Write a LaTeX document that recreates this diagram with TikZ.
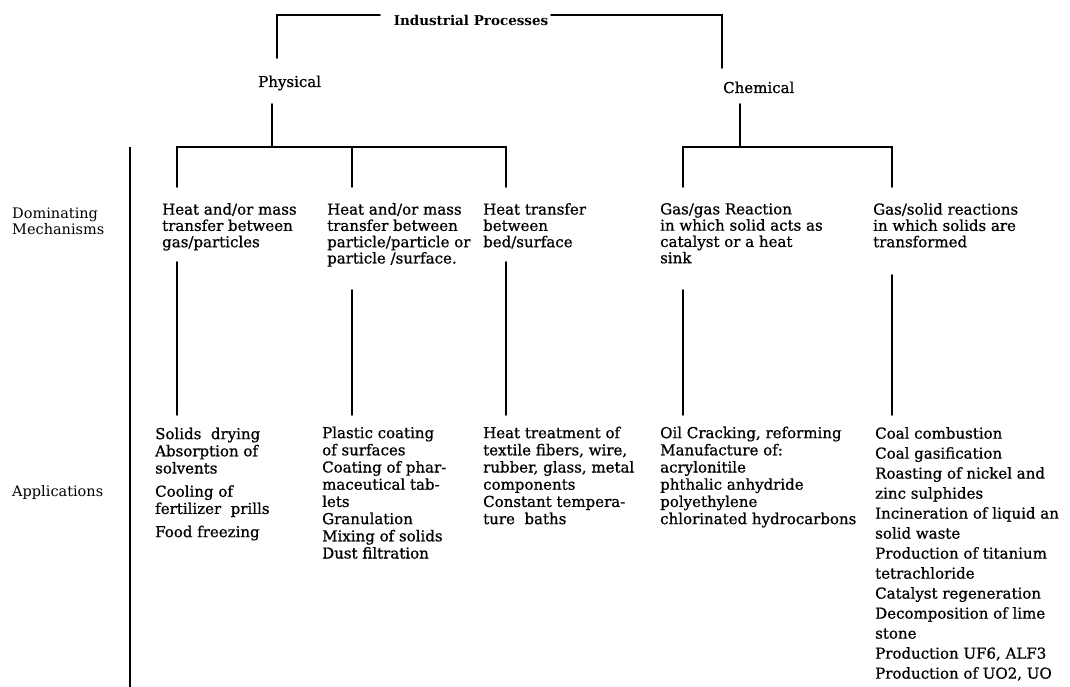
\documentclass[tikz,border=0pt]{standalone}
\usepackage{fontspec}
\setmainfont{DejaVu Serif}
\newfontfamily\heavyfont{DejaVu Serif}[FakeBold=0.8]
\begin{document}
\begin{tikzpicture}[x=1pt,y=-1pt]
\tikzset{
  conn/.style={line width=1.9pt, line cap=round},
  divider/.style={line width=1.6pt},
  txt/.style={anchor=north west, inner sep=0pt, align=left},
  mech/.style={txt, font=\heavyfont\fontsize{15}{16.3}\selectfont},
  app/.style={txt, font=\heavyfont\fontsize{15}{17.2}\selectfont},
  appwide/.style={txt, font=\heavyfont\fontsize{15}{20}\selectfont},
  side/.style={txt, font=\fontsize{14.5}{16}\selectfont},
  title/.style={anchor=base, inner sep=0pt, font=\bfseries\fontsize{13.5}{15}\selectfont},
  branch/.style={anchor=base west, inner sep=0pt, font=\heavyfont\fontsize{15}{16}\selectfont},
}
\fill[white] (0,0) rectangle (1070,687);
\useasboundingbox (0,0) rectangle (1070,687);

% titles
\node[title] (ip) at (471,26) {Industrial Processes};
\node[branch] (phys) at (258,87) {Physical};
\node[branch] (chem) at (723,93) {Chemical};

% top bracket
\coordinate (tlA) at (380,15);
\coordinate (tlB) at (277,15);
\coordinate (tlC) at (277,58);
\coordinate (trA) at (551,15);
\coordinate (trB) at (722,15);
\coordinate (trC) at (722,68);
\draw[conn] (tlA) -- (tlB) -- (tlC);
\draw[conn] (trA) -- (trB) -- (trC);

% physical tree
\coordinate (pt) at (272,104);
\coordinate (pj) at (272,147);
\coordinate (b1) at (177,147);
\coordinate (b3) at (506,147);
\coordinate (b2) at (352,147);
\coordinate (d1) at (177,187);
\coordinate (d2) at (352,187);
\coordinate (d3) at (506,187);
\draw[conn] (pt) -- (pj);
\draw[conn] (d1) -- (b1) -- (b3) -- (d3);
\draw[conn] (b2) -- (d2);

% chemical tree
\coordinate (ct) at (740,104);
\coordinate (cj) at (740,147);
\coordinate (b4) at (683,147);
\coordinate (b5) at (892,147);
\coordinate (d4) at (683,187);
\coordinate (d5) at (892,187);
\draw[conn] (ct) -- (cj);
\draw[conn] (d4) -- (b4) -- (b5) -- (d5);

% divider
\coordinate (dvt) at (130,147);
\coordinate (dvb) at (130,687);
\draw[divider] (dvt) -- (dvb);

% side labels
\node[side] (dom) at (12,207.5) {Dominating\\Mechanisms};
\node[side] (appl) at (12,485) {Applications};

% mechanisms
\node[mech] (m1) at (162,203) {Heat and/or mass\\transfer between\\gas/particles};
\node[mech] (m2) at (327,203) {Heat and/or mass\\transfer between\\particle/particle or\\particle /surface.};
\node[mech] (m3) at (483,203) {Heat transfer\\between\\bed/surface};
\node[mech] (m4) at (660,203) {Gas/gas Reaction\\in which solid acts as\\catalyst or a heat\\sink};
\node[mech] (m5) at (873,203) {Gas/solid reactions\\in which solids are\\transformed};

% lower connectors
\coordinate (u1) at (177,262);
\coordinate (l1) at (177,415);
\coordinate (u2) at (352,290);
\coordinate (l2) at (352,415);
\coordinate (u3) at (506,262);
\coordinate (l3) at (506,415);
\coordinate (u4) at (683,290);
\coordinate (l4) at (683,415);
\coordinate (u5) at (892,275);
\coordinate (l5) at (892,415);
\draw[conn] (u1) -- (l1);
\draw[conn] (u2) -- (l2);
\draw[conn] (u3) -- (l3);
\draw[conn] (u4) -- (l4);
\draw[conn] (u5) -- (l5);

% applications
\node[app] (a1) at (155,427.5) {Solids\ \ drying\\Absorption of\\solvents\\[6pt]Cooling of\\fertilizer\ \ prills\\[6pt]Food freezing};
\node[app] (a2) at (322,426.5) {Plastic coating\\of surfaces\\Coating of phar-\\maceutical tab-\\lets\\Granulation\\Mixing of solids\\Dust filtration};
\node[app] (a3) at (483,426.5) {Heat treatment of\\textile fibers, wire,\\rubber, glass, metal\\components\\Constant tempera-\\ture\ \ baths};
\node[app] (a4) at (660,426.5) {Oil Cracking, reforming\\Manufacture of:\\acrylonitile\\phthalic anhydride\\polyethylene\\chlorinated hydrocarbons};
\node[appwide] (a5) at (875,427) {Coal combustion\\Coal gasification\\Roasting of nickel and\\zinc sulphides\\Incineration of liquid an\\solid waste\\Production of titanium\\tetrachloride\\Catalyst regeneration\\Decomposition of lime\\stone\\Production UF6, ALF3\\Production of UO2, UO};
\end{tikzpicture}
\end{document}
